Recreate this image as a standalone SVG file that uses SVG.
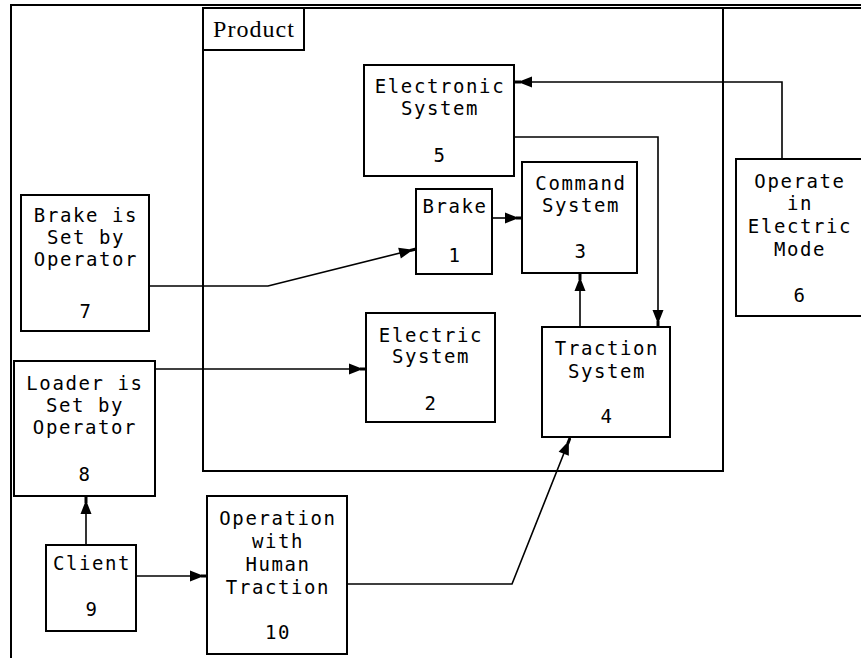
<svg xmlns="http://www.w3.org/2000/svg" width="861" height="658" viewBox="0 0 861 658">
<defs>
<style>
.box{fill:#fff;stroke:#000;stroke-width:2}
.frame{fill:none;stroke:#000;stroke-width:2}
.con{fill:none;stroke:#000;stroke-width:1.6;marker-end:url(#arr)}
text{font-family:"DejaVu Sans Mono","Liberation Mono",monospace;font-size:19px;letter-spacing:1.6px;fill:#000;text-anchor:middle}
.ser{font-family:"Liberation Serif","DejaVu Serif",serif;font-size:24px;letter-spacing:0;text-anchor:start}
</style>
<marker id="arr" viewBox="0 0 20 12" refX="20" refY="6" markerWidth="20" markerHeight="12" markerUnits="userSpaceOnUse" orient="auto">
<path d="M3,0.5 L17,6 L3,11.5 Z M14,4.5 H20 V7.5 H14 Z" fill="#000"/>
</marker>
</defs>
<rect width="861" height="658" fill="#fff"/>
<g id="frame">
<path class="frame" d="M11,658 V5 H861"/>
<path class="frame" d="M203,8 H861" stroke-width="1.5"/>
</g>
<g id="product">
<rect class="frame" x="203" y="8" width="520" height="463"/>
<rect class="frame" x="203" y="8" width="101" height="42"/>
<text class="ser" x="213" y="37" textLength="81">Product</text>
</g>
<g id="connectors">
<path class="con" d="M782,159 V82 H515"/>
<path class="con" d="M514,137 H658 V327"/>
<path class="con" d="M492,218 H522"/>
<path class="con" d="M580,327 V274"/>
<path class="con" d="M149,286 H268 L416,249"/>
<path class="con" d="M155,369 H366"/>
<path class="con" d="M86,545 V497"/>
<path class="con" d="M136,576 H207"/>
<path class="con" d="M347,584 H512 L570,438"/>
</g>
<g id="n5">
<rect class="box" x="364" y="65" width="150" height="111"/>
<text x="440" y="93">Electronic</text>
<text x="440" y="115">System</text>
<text x="440" y="162">5</text>
</g>
<g id="n1">
<rect class="box" x="416" y="189" width="76" height="85"/>
<text x="455" y="213">Brake</text>
<text x="455" y="262">1</text>
</g>
<g id="n3">
<rect class="box" x="522" y="162" width="115" height="111"/>
<text x="581" y="190">Command</text>
<text x="581" y="212">System</text>
<text x="581" y="258">3</text>
</g>
<g id="n6">
<rect class="box" x="736" y="159" width="130" height="157"/>
<text x="800" y="188">Operate</text>
<text x="800" y="210">in</text>
<text x="800" y="233">Electric</text>
<text x="800" y="256">Mode</text>
<text x="800" y="302">6</text>
</g>
<g id="n7">
<rect class="box" x="21" y="195" width="128" height="136"/>
<text x="86" y="222">Brake is</text>
<text x="86" y="244">Set by</text>
<text x="86" y="266">Operator</text>
<text x="86" y="318">7</text>
</g>
<g id="n2">
<rect class="box" x="366" y="313" width="129" height="109"/>
<text x="431" y="342">Electric</text>
<text x="431" y="363">System</text>
<text x="431" y="410">2</text>
</g>
<g id="n4">
<rect class="box" x="542" y="327" width="128" height="110"/>
<text x="607" y="355">Traction</text>
<text x="607" y="378">System</text>
<text x="607" y="423">4</text>
</g>
<g id="n8">
<rect class="box" x="14" y="361" width="141" height="135"/>
<text x="85" y="390">Loader is</text>
<text x="85" y="412">Set by</text>
<text x="85" y="434">Operator</text>
<text x="85" y="481">8</text>
</g>
<g id="n9">
<rect class="box" x="46" y="545" width="90" height="86"/>
<text x="92" y="570">Client</text>
<text x="92" y="616">9</text>
</g>
<g id="n10">
<rect class="box" x="207" y="496" width="140" height="158"/>
<text x="278" y="525">Operation</text>
<text x="278" y="548">with</text>
<text x="278" y="571">Human</text>
<text x="278" y="594">Traction</text>
<text x="278" y="639">10</text>
</g>
</svg>
